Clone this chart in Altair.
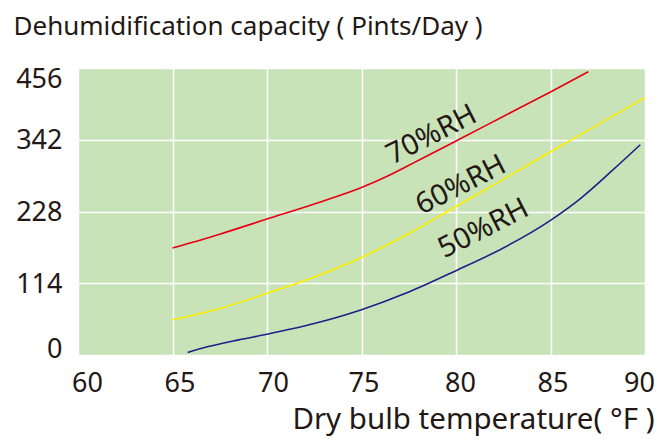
import altair as alt
import pandas as pd

# Data
t70 = [65, 67.5, 70, 72.5, 75, 76.5, 78, 80, 82.5, 85, 87]
v70 = [170, 192, 216, 240, 266, 286, 309, 340, 379, 418, 450]

t60 = [65, 67.5, 70, 72.5, 75, 77.5, 80, 82.5, 85, 87.5, 90]
v60 = [56, 74, 98, 124, 155, 193, 236, 279, 323, 366, 409]

t50 = [65.8, 66.6, 68.5, 70, 72.5, 75, 77.5, 80, 82.5, 85, 86.6, 88.3, 89.75]
v50 = [4, 11, 24, 33, 50, 72, 100, 134, 170, 214, 249, 294, 334]

series_names = ["70%RH", "60%RH", "50%RH"]
series_colors = ["#e60012", "#fff000", "#1d2088"]

label_t = [78.7, 80.25, 81.45]
label_v = [350, 270, 201]

y_ticks = [0, 114, 228, 342, 456]
x_ticks = [60, 65, 70, 75, 80, 85, 90]

rows = []
for name, ts, vs in zip(series_names, [t70, t60, t50], [v70, v60, v50]):
    for t, v in zip(ts, vs):
        rows.append({"series": name, "temp": t, "cap": v})
df = pd.DataFrame(rows)

lab = pd.DataFrame({"series": series_names, "temp": label_t, "cap": label_v})

FONT = "Noto Sans"
TXT = "#231815"

x = alt.X("temp:Q",
          scale=alt.Scale(domain=[60, 90], nice=False, zero=False),
          axis=alt.Axis(values=x_ticks, title="Dry bulb temperature( °F )",
                        grid=True, gridColor="white", gridWidth=1.5,
                        domain=False, ticks=False, labelFlush=False,
                        labelFont=FONT, labelFontSize=27, labelColor=TXT,
                        labelPadding=15,
                        labelOffset={"condition": [
                            {"test": "datum.value == 60", "value": 9},
                            {"test": "datum.value == 65", "value": 7},
                            {"test": "datum.value == 70", "value": 6},
                            {"test": "datum.value == 80", "value": 4},
                            {"test": "datum.value == 90", "value": -6}],
                            "value": 2},
                        titleFont=FONT, titleFontSize=29.5, titleFontWeight="normal",
                        titleColor=TXT, titleAlign="right", titleAnchor="end",
                        titleX=576, titleY=73, titleBaseline="alphabetic",
                        titleAngle=0))
y = alt.Y("cap:Q",
          scale=alt.Scale(domain=[0, 456], nice=False),
          axis=alt.Axis(values=y_ticks, title="Dehumidification capacity ( Pints/Day )",
                        grid=True, gridColor="white", gridWidth=1.5,
                        domain=False, ticks=False,
                        labelFont=FONT, labelFontSize=27, labelColor=TXT,
                        labelPadding=16,
                        labelOffset={"condition": [
                            {"test": "datum.value == 456", "value": 11},
                            {"test": "datum.value == 0", "value": -6}],
                            "value": 1},
                        titleFont=FONT, titleFontSize=26, titleFontWeight="normal",
                        titleColor=TXT, titleAngle=0, titleAlign="left",
                        titleX=-65, titleY=-34, titleBaseline="alphabetic"))

color = alt.Color("series:N",
                  scale=alt.Scale(domain=series_names, range=series_colors),
                  legend=None)

lines = alt.Chart(df).mark_line(strokeWidth=1.6, interpolate="monotone").encode(
    x=x, y=y, color=color, detail="series:N")

texts = alt.Chart(lab).mark_text(font=FONT, fontSize=29, color=TXT, angle=333,
                                 align="center", baseline="middle").encode(
    x="temp:Q", y="cap:Q", text="series:N")

chart = (lines + texts).properties(
    width=567, height=287,
    background="white",
    autosize=alt.AutoSizeParams(type="none"),
    padding={"left": 70, "top": 60, "right": 11, "bottom": 84},
).configure_view(fill="#c9e3b8", stroke=None)

chart.save("out.html", embed_options={"renderer": "svg", "actions": False})
